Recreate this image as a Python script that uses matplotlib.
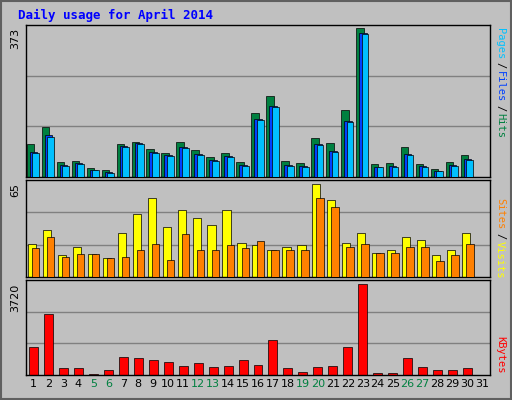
import matplotlib
matplotlib.use("Agg")
import matplotlib.pyplot as plt
import numpy as np

days = list(range(1, 32))
hits = [82,125,37,40,22,17,82,87,70,60,87,67,50,60,37,160,202,40,35,97,85,167,373,32,35,75,32,20,37,55,0]
files = [62,105,30,35,18,12,77,85,62,55,75,57,42,52,30,145,178,30,28,82,65,140,360,25,28,58,28,15,30,45,0]
pages = [60,100,28,33,17,11,75,82,60,52,72,55,40,50,28,142,175,28,26,80,62,137,358,24,26,55,26,14,28,42,0]
visits = [23,33,15,21,16,13,31,44,55,35,47,41,36,47,24,22,19,21,22,65,54,24,31,17,19,28,26,15,19,31,0]
sites = [20,28,14,16,16,13,14,19,23,12,30,19,19,22,20,25,19,19,19,55,49,21,23,17,17,21,21,11,15,23,0]
kbytes = [1160,2500,290,290,40,200,740,700,610,530,370,490,330,370,610,410,1430,290,120,330,370,1160,3720,80,80,700,330,200,200,290,0]
weekend = {5,6,12,13,19,20,26,27}

BG = "#C0C0C0"
fig = plt.figure(figsize=(5.12, 4.0), dpi=100, facecolor=BG)
W, H = 512, 400
def ax_at(x0, y0, x1, y1):
    a = fig.add_axes([x0/W, 1-y1/H, (x1-x0)/W, (y1-y0)/H])
    a.set_facecolor(BG)
    a.set_xlim(0.5, 31.5)
    a.set_xticks([]); a.set_yticks([])
    for s in a.spines.values():
        s.set_color("black"); s.set_linewidth(1)
    return a

x = np.array(days)
mono = "DejaVu Sans Mono"

a1 = ax_at(26, 25, 490, 177)
a1.set_ylim(0, 373*1.02)
for g in (373*1.02/3, 373*1.02*2/3):
    a1.axhline(g, color="#808080", lw=1, zorder=0)
a1.bar(x-0.2, hits, width=0.5, color="#008040", edgecolor="black", lw=0.5, zorder=2)
a1.bar(x+0.0, files, width=0.5, color="#0040FF", edgecolor="black", lw=0.5, zorder=3)
a1.bar(x+0.15, pages, width=0.45, color="#00C0FF", edgecolor="black", lw=0.5, zorder=4)

a2 = ax_at(26, 180, 490, 277)
a2.set_ylim(0, 65*1.04)
for g in (65*1.04/3, 65*1.04*2/3):
    a2.axhline(g, color="#808080", lw=1, zorder=0)
a2.bar(x-0.1, visits, width=0.55, color="#FFFF00", edgecolor="black", lw=0.5, zorder=2)
a2.bar(x+0.15, sites, width=0.5, color="#FF8000", edgecolor="black", lw=0.5, zorder=3)

a3 = ax_at(26, 280, 490, 375)
a3.set_ylim(0, 3720*1.04)
for g in (3720*1.04/3, 3720*1.04*2/3):
    a3.axhline(g, color="#808080", lw=1, zorder=0)
a3.bar(x, kbytes, width=0.6, color="#FF0000", edgecolor="black", lw=0.5, zorder=2)
a3.set_xticks(x)
a3.set_xticklabels([str(d) for d in days], fontsize=8)
a3.tick_params(axis="x", length=0, pad=3)
for lab, d in zip(a3.get_xticklabels(), days):
    lab.set_color("#008040" if d in weekend else "black")

fig.text(18/W, 1-15/H, "Daily usage for April 2014", color="#0000FF", fontsize=9,
         fontweight="bold", family=mono, va="center")
for txt, y in (("373", 28), ("65", 183), ("3720", 284)):
    fig.text(15/W, 1-y/H, txt, rotation=90, fontsize=8, va="top", ha="center")

def side(parts, ytop):
    y = ytop
    for t, c in parts:
        fig.text(500/W, 1-y/H, t, rotation=270, color=c, fontsize=7.5, family=mono,
                 va="top", ha="center")
        y += len(t)*6.6 + 1.5
side([("Pages", "#00C0FF"), ("/", "black"), ("Files", "#0040FF"), ("/", "black"), ("Hits", "#008040")], 28)
side([("Sites", "#FF8000"), ("/", "black"), ("Visits", "#FFFF00")], 198)
side([("KBytes", "#FF0000")], 336)

fig.patches.append(plt.Rectangle((0.002, 0.002), 0.996, 0.996, transform=fig.transFigure,
                                 fill=False, edgecolor="#606060", lw=1.5))
fig.savefig("out.png", dpi=100, facecolor=BG)
